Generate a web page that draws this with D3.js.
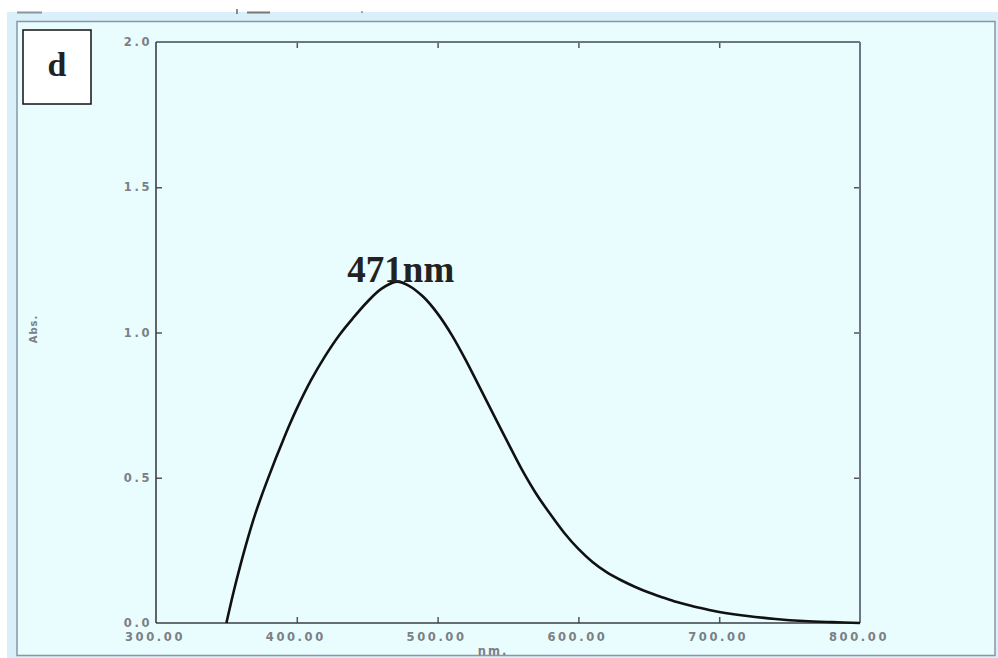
<!DOCTYPE html>
<html>
<head>
<meta charset="utf-8">
<script src="https://cdn.jsdelivr.net/npm/d3@7"></script>
<style>
  body { margin: 0; background: #ffffff; }
  svg { display: block; }
  .tick-label { font-family: "DejaVu Sans", sans-serif; font-size: 11.5px; font-weight: bold; fill: #7a8085; letter-spacing: 2.6px; }
</style>
</head>
<body>
<svg id="chart_svg" width="998" height="658"></svg>
<script>
// Spectrum (wavelength in nm, absorbance)
const wavelengths = [350, 355, 360, 365, 370, 375, 380, 385, 390, 395, 400, 410, 420, 430, 440, 450, 460, 471,
  480, 490, 500, 510, 520, 530, 540, 550, 560, 570, 580, 590, 600, 610, 620, 630, 640, 650,
  660, 670, 680, 690, 700, 720, 740, 760, 780, 800];
const absorbance = [0.0, 0.105, 0.2, 0.288, 0.368, 0.438, 0.503, 0.566, 0.626, 0.684, 0.738, 0.835, 0.918, 0.99, 1.05, 1.105, 1.15, 1.175,
  1.16, 1.122, 1.065, 0.992, 0.905, 0.81, 0.715, 0.62, 0.527, 0.445, 0.375, 0.31, 0.255, 0.21, 0.175, 0.148, 0.125, 0.105,
  0.088, 0.072, 0.059, 0.048, 0.038, 0.024, 0.014, 0.007, 0.003, 0.0];
const xTicks = [300, 400, 500, 600, 700, 800];
const yTicks = [0.0, 0.5, 1.0, 1.5, 2.0];
const peakLabel = "471nm";
const panelLabel = "d";

function drawChart() {
  const svg = d3.select("#chart_svg");
  const margin = { top: 42, bottom: 35, left: 156, right: 138 };
  const width = 998, height = 658;
  const innerWidth = width - margin.left - margin.right;
  const innerHeight = height - margin.top - margin.bottom;

  //Window frame behind the plot
  svg.append("rect").attr("x", 7).attr("y", 12).attr("width", 991).attr("height", 646).attr("fill", "#d9eff9");
  svg.append("rect").attr("x", 17).attr("y", 21.5).attr("width", 978).attr("height", 634)
    .attr("fill", "#e9fcfe").attr("stroke", "#8797a7").attr("stroke-width", 1.5);

  //Bits of the toolbar above the window
  svg.append("line").attr("x1", 17).attr("x2", 42).attr("y1", 12.5).attr("y2", 12.5).attr("stroke", "#8c949c").attr("stroke-width", 2);
  svg.append("line").attr("x1", 237).attr("x2", 237).attr("y1", 9).attr("y2", 14).attr("stroke", "#666").attr("stroke-width", 1.5);
  svg.append("line").attr("x1", 247).attr("x2", 270).attr("y1", 12.5).attr("y2", 12.5).attr("stroke", "#777").attr("stroke-width", 2);
  svg.append("circle").attr("cx", 362).attr("cy", 12).attr("r", 1).attr("fill", "#888");

  const g = svg.append("g").attr("transform", `translate(${margin.left},${margin.top})`);

  const xScale = d3.scaleLinear().domain([300, 800]).range([0, innerWidth]);
  const yScale = d3.scaleLinear().domain([0, 2]).range([innerHeight, 0]);

  //Ticks pointing inward on all four sides
  const tickLen = 6;
  function styleTicks(a) {
    a.select(".domain").remove();
    a.selectAll("line").attr("stroke", "#555").attr("stroke-width", 1.5);
  }
  g.append("g").attr("transform", `translate(0,${innerHeight})`)
    .call(d3.axisBottom(xScale).tickValues(xTicks.slice(1, -1)).tickSizeInner(-tickLen).tickSizeOuter(0).tickFormat(""))
    .call(styleTicks);
  g.append("g")
    .call(d3.axisTop(xScale).tickValues(xTicks.slice(1, -1)).tickSizeInner(-tickLen).tickSizeOuter(0).tickFormat(""))
    .call(styleTicks);
  g.append("g")
    .call(d3.axisLeft(yScale).tickValues(yTicks.slice(1, -1)).tickSizeInner(-tickLen).tickSizeOuter(0).tickFormat(""))
    .call(styleTicks);
  g.append("g").attr("transform", `translate(${innerWidth},0)`)
    .call(d3.axisRight(yScale).tickValues(yTicks.slice(1, -1)).tickSizeInner(-tickLen).tickSizeOuter(0).tickFormat(""))
    .call(styleTicks);

  //Plot border
  g.append("line").attr("x1", 0).attr("x2", innerWidth).attr("y1", 0).attr("y2", 0).attr("stroke", "#6b7784").attr("stroke-width", 2);
  g.append("line").attr("x1", innerWidth).attr("x2", innerWidth).attr("y1", 0).attr("y2", innerHeight).attr("stroke", "#6b7784").attr("stroke-width", 2);
  g.append("line").attr("x1", 0).attr("x2", 0).attr("y1", 0).attr("y2", innerHeight).attr("stroke", "#3a3f44").attr("stroke-width", 1.6);
  g.append("line").attr("x1", 0).attr("x2", innerWidth).attr("y1", innerHeight).attr("y2", innerHeight).attr("stroke", "#3a3f44").attr("stroke-width", 1.6);

  //Tick labels
  g.selectAll(".x-label").data(xTicks).join("text")
    .attr("class", "tick-label")
    .attr("x", (d) => xScale(d) - 1)
    .attr("y", innerHeight + 18)
    .attr("text-anchor", "middle")
    .text((d) => d.toFixed(2));
  g.selectAll(".y-label").data(yTicks).join("text")
    .attr("class", "tick-label")
    .attr("x", -4)
    .attr("y", (d) => yScale(d) + 4)
    .attr("text-anchor", "end")
    .text((d) => d.toFixed(1));

  //Axis titles
  g.append("text").attr("class", "tick-label")
    .attr("x", xScale(550) - 15).attr("y", innerHeight + 32)
    .attr("text-anchor", "middle").style("font-size", "11.5px").style("letter-spacing", "2px")
    .text("nm.");
  svg.append("text").attr("class", "tick-label")
    .attr("transform", "translate(37,329) rotate(-90)")
    .attr("text-anchor", "middle").style("font-size", "10px").style("letter-spacing", "1px")
    .text("Abs.");

  //Spectrum line
  const line = d3.line()
    .x((d) => xScale(d[0]))
    .y((d) => yScale(d[1]))
    .curve(d3.curveCatmullRom.alpha(0.5));
  g.append("path")
    .datum(d3.zip(wavelengths, absorbance))
    .attr("d", line)
    .attr("fill", "none")
    .attr("stroke", "#111")
    .attr("stroke-width", 2.6);

  //Peak annotation
  const peakIndex = d3.maxIndex(absorbance);
  g.append("text")
    .attr("x", xScale(wavelengths[peakIndex]) + 4)
    .attr("y", yScale(absorbance[peakIndex]) - 0)
    .attr("text-anchor", "middle")
    .style("font-family", "'Liberation Serif', 'Times New Roman', serif")
    .style("font-weight", "bold")
    .style("font-size", "37px")
    .attr("fill", "#222")
    .text(peakLabel);

  //Panel label box
  svg.append("rect").attr("x", 23).attr("y", 30).attr("width", 68).attr("height", 74)
    .attr("fill", "#ffffff").attr("stroke", "#111").attr("stroke-width", 1.5);
  svg.append("text").attr("x", 57).attr("y", 76)
    .attr("text-anchor", "middle")
    .style("font-family", "'Liberation Serif', 'Times New Roman', serif")
    .style("font-weight", "bold")
    .style("font-size", "34px")
    .attr("fill", "#222")
    .text(panelLabel);
}

drawChart();
</script>
</body>
</html>
